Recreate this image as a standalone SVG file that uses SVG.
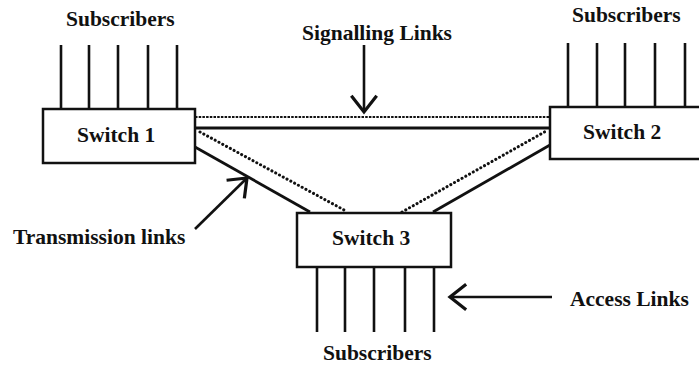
<svg xmlns="http://www.w3.org/2000/svg" width="699" height="369" viewBox="0 0 699 369">
  <style>
    .box { fill: #fff; stroke: #111; stroke-width: 2.5; }
    .lbl { font-family: "Liberation Serif", "Times New Roman", serif; font-weight: bold; font-size: 21.5px; fill: #111; }
    .sub { stroke: #111; stroke-width: 2.6; fill: none; }
    .solid { stroke: #111; stroke-width: 2.8; fill: none; }
    .hdot { stroke: #111; stroke-width: 2.2; stroke-dasharray: 2.5 1.2; fill: none; }
    .ddot { stroke: #111; stroke-width: 3; stroke-dasharray: 0.1 4.2; stroke-linecap: round; fill: none; }
    .ptr { stroke: #111; stroke-width: 2.6; fill: none; marker-end: url(#vhead); }
  </style>
  <defs>
    <marker id="vhead" markerUnits="userSpaceOnUse" markerWidth="30" markerHeight="30" refX="0" refY="0" viewBox="-16 -13 20 26" orient="auto" overflow="visible">
      <path d="M-14,-11 L0,0 L-14,11" fill="none" stroke="#111" stroke-width="2.8" stroke-linejoin="miter"/>
    </marker>
  </defs>
  <rect width="699" height="369" fill="#fff"/>

  <!-- links between the switches -->
  <g id="connectors">
    <!-- signalling (dotted) and transmission (solid), Switch 1 to Switch 2 -->
    <line class="hdot" x1="195" y1="117" x2="550" y2="117"/>
    <line class="solid" x1="195" y1="128" x2="550" y2="128"/>
    <!-- Switch 1 to Switch 3 -->
    <line class="ddot" x1="200" y1="132" x2="346" y2="211"/>
    <line class="solid" x1="195" y1="147" x2="310" y2="212"/>
    <!-- Switch 3 to Switch 2 -->
    <line class="ddot" x1="402" y1="212" x2="548" y2="130"/>
    <line class="solid" x1="433" y1="212" x2="550" y2="145"/>
  </g>

  <!-- subscriber access lines -->
  <g id="access-lines">
    <g id="access-switch1">
      <line class="sub" x1="61" y1="45" x2="61" y2="109"/>
      <line class="sub" x1="89" y1="45" x2="89" y2="109"/>
      <line class="sub" x1="118" y1="45" x2="118" y2="109"/>
      <line class="sub" x1="148" y1="45" x2="148" y2="109"/>
      <line class="sub" x1="177" y1="45" x2="177" y2="109"/>
    </g>
    <g id="access-switch2">
      <line class="sub" x1="568" y1="43" x2="568" y2="107"/>
      <line class="sub" x1="597" y1="43" x2="597" y2="107"/>
      <line class="sub" x1="625" y1="43" x2="625" y2="107"/>
      <line class="sub" x1="655" y1="43" x2="655" y2="107"/>
      <line class="sub" x1="685" y1="43" x2="685" y2="107"/>
    </g>
    <g id="access-switch3">
      <line class="sub" x1="317" y1="267" x2="317" y2="332"/>
      <line class="sub" x1="345" y1="267" x2="345" y2="332"/>
      <line class="sub" x1="374" y1="267" x2="374" y2="332"/>
      <line class="sub" x1="405" y1="267" x2="405" y2="332"/>
      <line class="sub" x1="434" y1="267" x2="434" y2="332"/>
    </g>
  </g>

  <!-- switches -->
  <g id="switch1">
    <rect class="box" x="43" y="109" width="152" height="54"/>
    <text class="lbl" x="77" y="142">Switch 1</text>
  </g>
  <g id="switch2">
    <rect class="box" x="550" y="107" width="160" height="52"/>
    <text class="lbl" x="583" y="139">Switch 2</text>
  </g>
  <g id="switch3">
    <rect class="box" x="297" y="213" width="154" height="54"/>
    <text class="lbl" x="332" y="245">Switch 3</text>
  </g>

  <!-- subscriber labels -->
  <g id="subscriber-labels">
    <text class="lbl" x="66" y="26">Subscribers</text>
    <text class="lbl" x="572" y="22">Subscribers</text>
    <text class="lbl" x="323" y="360">Subscribers</text>
  </g>

  <!-- callouts -->
  <g id="callouts">
    <text class="lbl" x="302" y="40">Signalling Links</text>
    <line class="ptr" x1="364" y1="45" x2="364" y2="112"/>
    <text class="lbl" x="13" y="244">Transmission links</text>
    <line class="ptr" x1="195" y1="229" x2="247" y2="178"/>
    <text class="lbl" x="570" y="306">Access Links</text>
    <line class="ptr" x1="552" y1="297" x2="450" y2="297"/>
  </g>
</svg>
